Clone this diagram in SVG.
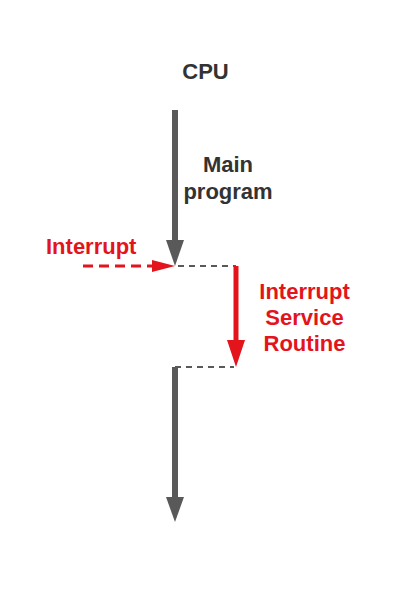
<svg xmlns="http://www.w3.org/2000/svg" width="402" height="608" viewBox="0 0 402 608">
<style>
.t{font-family:"Liberation Sans",Arial,sans-serif;font-weight:bold;font-size:22px}
.g{fill:#333}
.r{fill:#e3141b}
.shaft{stroke:#595959;stroke-width:6;fill:none}
.rshaft{stroke:#e3141b;stroke-width:5;fill:none}
.dash{stroke:#595959;stroke-width:2;stroke-dasharray:6 5;fill:none}
.rdash{stroke:#e3141b;stroke-width:3;stroke-dasharray:10 6;fill:none}
</style>
<rect width="402" height="608" fill="#fff"/>
<g id="labels">
<text class="t g" x="205.5" y="79" text-anchor="middle">CPU</text>
<g id="main-label"><text class="t g" x="228" y="172" text-anchor="middle">Main</text>
<text class="t g" x="228" y="199" text-anchor="middle">program</text></g>
<text id="interrupt-label" class="t r" x="46" y="254">Interrupt</text>
<g id="isr-label"><text class="t r" x="304.5" y="299" text-anchor="middle">Interrupt</text>
<text class="t r" x="304.5" y="325" text-anchor="middle">Service</text>
<text class="t r" x="304.5" y="351" text-anchor="middle">Routine</text></g>
</g>
<g id="connectors">
<line class="shaft" x1="175" y1="110" x2="175" y2="242"/>
<polygon fill="#595959" points="166,240 184,240 175,266"/>
<line class="dash" x1="178" y1="266" x2="236" y2="266"/>
<line class="rshaft" x1="236" y1="266" x2="236" y2="342"/>
<polygon fill="#e3141b" points="227,340 245,340 236,367"/>
<line class="dash" x1="175" y1="367" x2="234" y2="367"/>
<line class="shaft" x1="175" y1="367" x2="175" y2="499"/>
<polygon fill="#595959" points="166,497 184,497 175,522"/>
<line class="rdash" x1="83" y1="266" x2="154" y2="266"/>
<polygon fill="#e3141b" points="152,260 175,266 152,272"/>
</g>
</svg>
